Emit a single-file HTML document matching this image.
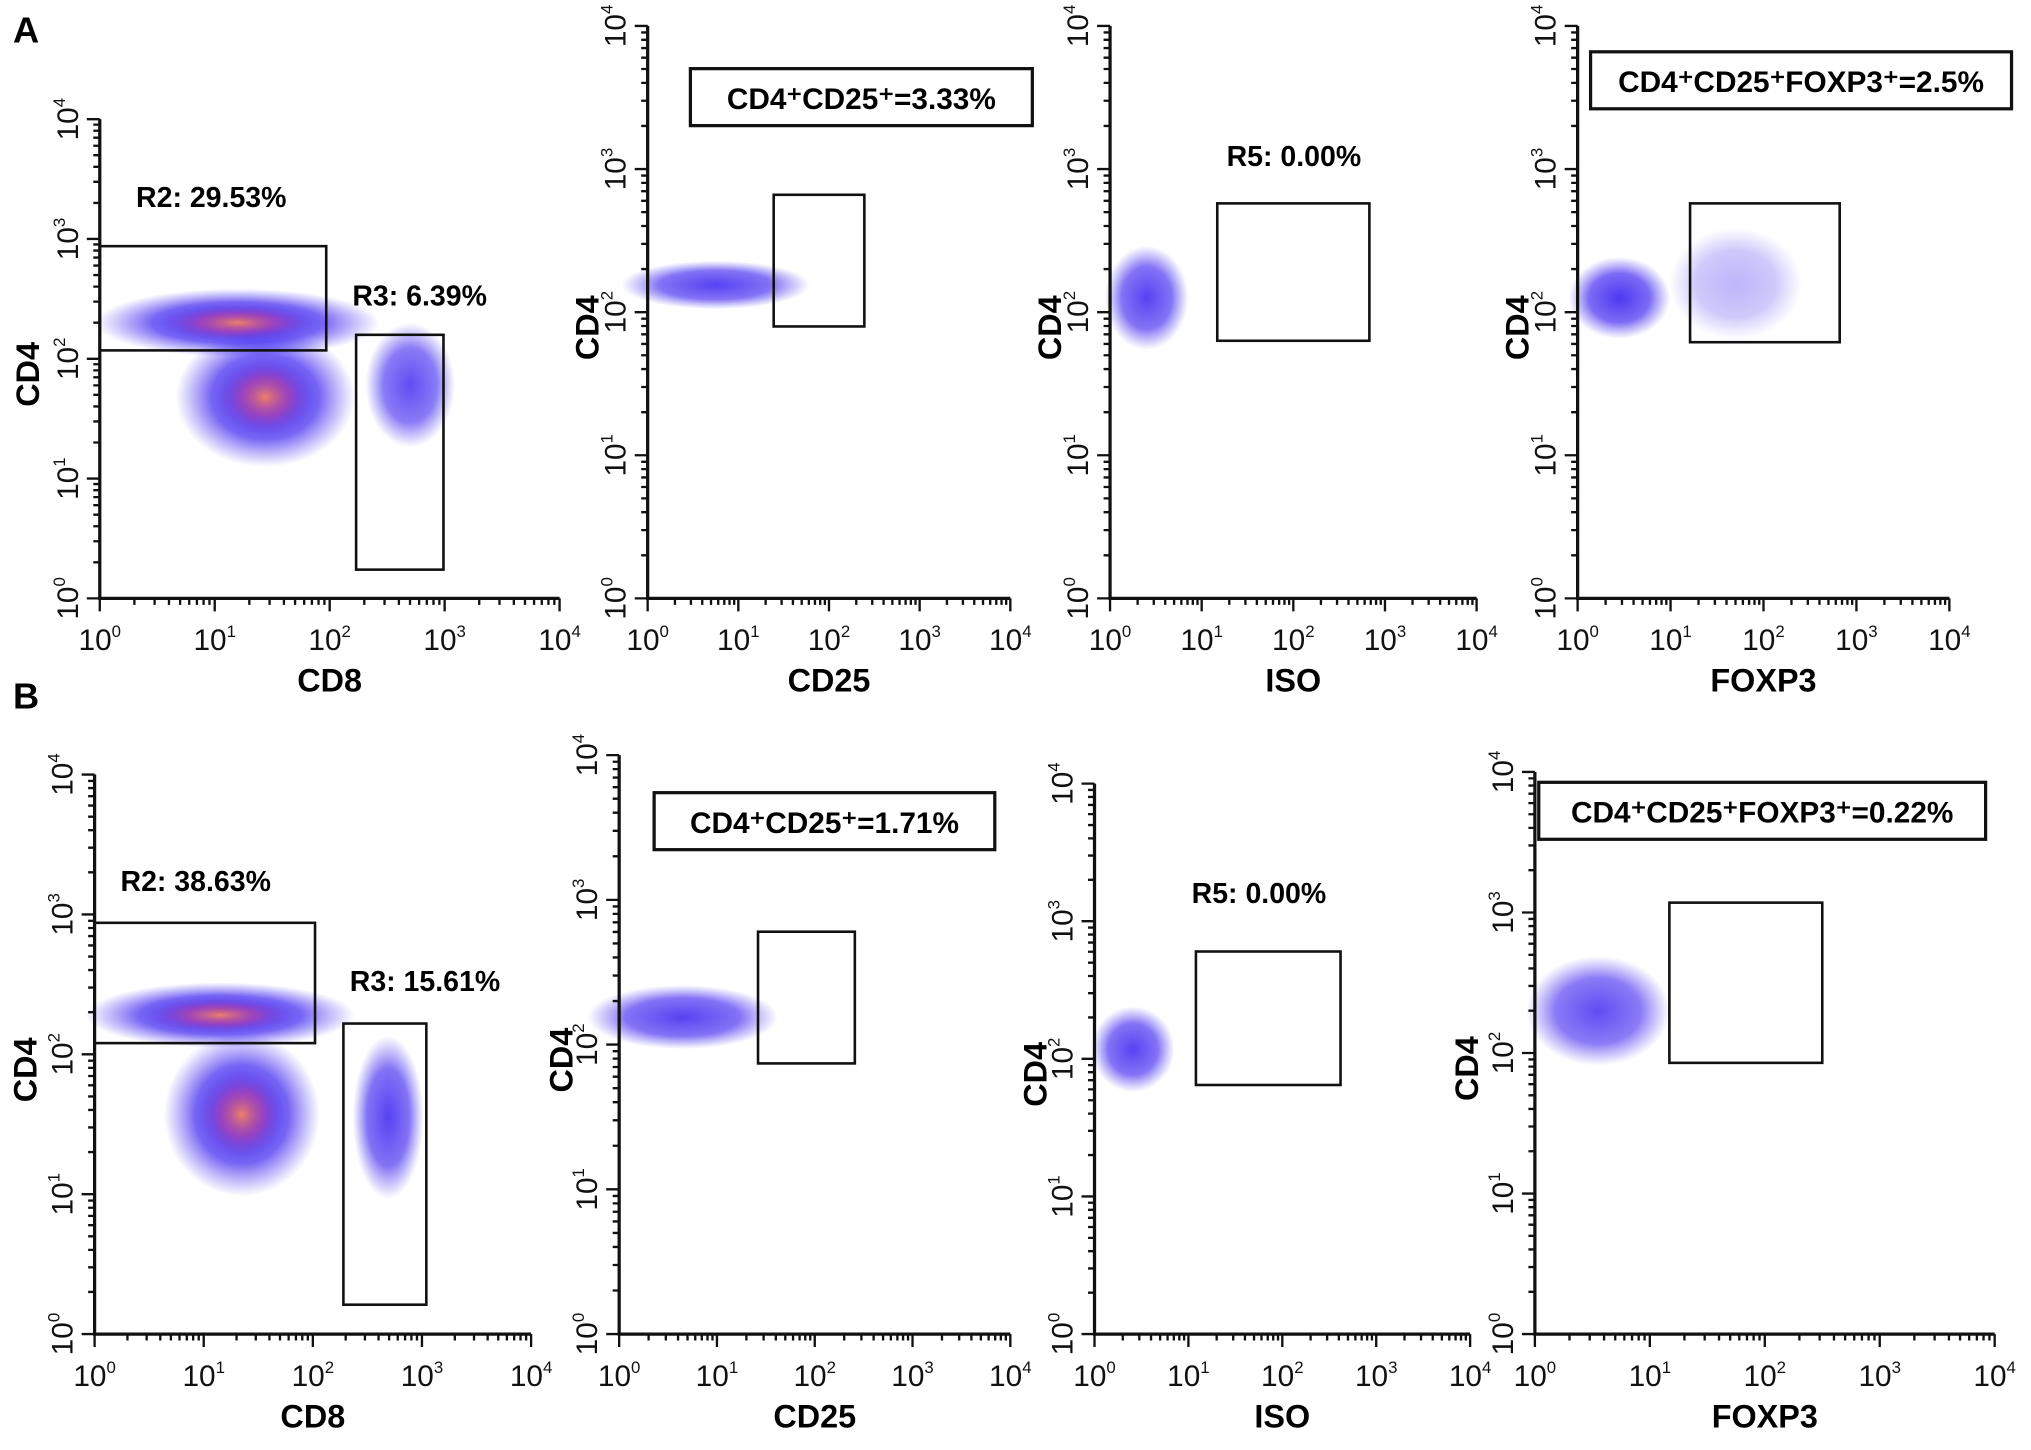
<!DOCTYPE html>
<html><head><meta charset="utf-8"><style>
html,body{margin:0;padding:0;background:#fff;}
svg{display:block;font-family:"Liberation Sans",Arial,sans-serif;}
</style></head><body>
<svg id="fig" width="2031" height="1450" viewBox="0 0 1568 1119.5" xmlns="http://www.w3.org/2000/svg">
<defs>
<radialGradient id="gBlue" cx="50%" cy="50%" r="50%">
<stop offset="0" stop-color="#3a22f0" stop-opacity="0.95"/>
<stop offset="0.6" stop-color="#3a22f0" stop-opacity="0.7"/>
<stop offset="1" stop-color="#4a3af0" stop-opacity="0"/>
</radialGradient>
<radialGradient id="gHot" cx="50%" cy="50%" r="50%">
<stop offset="0" stop-color="#ff8a5a" stop-opacity="0.9"/>
<stop offset="0.5" stop-color="#c8409a" stop-opacity="0.55"/>
<stop offset="1" stop-color="#5a2ae0" stop-opacity="0"/>
</radialGradient>
</defs>
<text x="10" y="33" font-size="28" font-weight="bold">A</text>
<text x="10" y="547" font-size="28" font-weight="bold">B</text>
<g id="plots"></g>
</svg>
<script>
const panelIds = ["a-cd8","a-cd25","a-iso","a-foxp3","b-cd8","b-cd25","b-iso","b-foxp3"];
const xTitles = ["CD8","CD25","ISO","FOXP3","CD8","CD25","ISO","FOXP3"];
const tickExps = [0,1,2,3,4];
// gates (log10 units)
const gatePanels = [0,0,1,2,3,4,4,5,6,7];
const gateX1 = [0.0,2.23,1.39,1.17,1.21,0.0,2.28,1.42,1.08,1.17];
const gateX2 = [1.97,2.99,2.39,2.83,2.82,2.02,3.04,2.41,2.62,2.50];
const gateY1 = [2.07,0.24,1.90,1.80,1.79,2.08,0.21,1.87,1.81,1.93];
const gateY2 = [2.94,2.20,2.82,2.76,2.76,2.94,2.22,2.78,2.78,3.07];
// cell populations (log10 centre, log10 spread, density)
const popPanels = [0,0,0,1,2,3,3,4,4,4,5,6,7];
const popX = [1.20,1.44,2.70,0.75,0.40,0.45,1.70,1.15,1.35,2.69,0.65,0.41,0.55];
const popY = [2.30,1.68,1.78,2.19,2.10,2.10,2.20,2.28,1.57,1.55,2.19,2.07,2.30];
const popSX = [0.95,0.60,0.30,0.80,0.35,0.42,0.55,0.95,0.55,0.25,0.75,0.34,0.48];
const popSY = [0.22,0.45,0.40,0.13,0.28,0.22,0.30,0.18,0.45,0.45,0.17,0.24,0.30];
const popDensity = [1,1,0.85,0.9,0.9,0.95,0.35,1,1,0.9,0.9,0.9,0.85];
const popHot = [1,1,0,0,0,0,0,1,1,0,0,0,0];
const annPanels = [0,0,1,2,3,4,4,5,6,7];
const annText = ["R2: 29.53%","R3: 6.39%","CD4⁺CD25⁺=3.33%","R5: 0.00%","CD4⁺CD25⁺FOXP3⁺=2.5%","R2: 38.63%","R3: 15.61%","CD4⁺CD25⁺=1.71%","R5: 0.00%","CD4⁺CD25⁺FOXP3⁺=0.22%"];
const annBoxed = [0,0,1,0,1,0,0,1,0,1];

const L = [
 {x0:77,x1:432,y0:462,y1:92,ylx:30},
 {x0:500,x1:780,y0:462,y1:20,ylx:462},
 {x0:857,x1:1140,y0:462,y1:20,ylx:819},
 {x0:1218,x1:1505,y0:462,y1:20,ylx:1180},
 {x0:73,x1:410,y0:1030,y1:598,ylx:28},
 {x0:478,x1:780,y0:1030,y1:583,ylx:442},
 {x0:845,x1:1135,y0:1030,y1:605,ylx:808},
 {x0:1185,x1:1540,y0:1030,y1:596,ylx:1141}
];
const annPos = [[105,160],[272,236],[533,53],[947,128],[1228,40],[93,688],[270,765],[505,612],[920,697],[1188,604]];
const annW = [0,0,264,0,325,0,0,263,0,345];

const NS="http://www.w3.org/2000/svg";
const root=document.getElementById('plots');
function mk(tag,attrs,parent){const e=document.createElementNS(NS,tag);for(const k in attrs)e.setAttribute(k,attrs[k]);(parent||root).appendChild(e);return e;}
function sx(p,v){return L[p].x0+(L[p].x1-L[p].x0)*v/4;}
function sy(p,v){return L[p].y0-(L[p].y0-L[p].y1)*v/4;}
const K=1.3;

panelIds.forEach((id,p)=>{
  const g=mk('g',{});
  
  
  const l=L[p];
  popPanels.forEach((pp,i)=>{
    if(pp!==p)return;
    const rx=Math.abs(sx(p,popSX[i])-sx(p,0))*K, ry=Math.abs(sy(p,popSY[i])-sy(p,0))*K;
    const e=mk('ellipse',{cx:sx(p,popX[i]),cy:sy(p,popY[i]),rx:rx,ry:ry,fill:'url(#gBlue)',opacity:popDensity[i]},g);
    
    
    if(popHot[i]){
      const h=mk('ellipse',{cx:sx(p,popX[i]),cy:sy(p,popY[i]),rx:rx*0.55,ry:ry*0.55,fill:'url(#gHot)'},g);
      
      
    }
  });
  gatePanels.forEach((gp,i)=>{
    if(gp!==p)return;
    const r=mk('rect',{x:sx(p,gateX1[i]),y:sy(p,gateY2[i]),width:sx(p,gateX2[i])-sx(p,gateX1[i]),height:sy(p,gateY1[i])-sy(p,gateY2[i]),fill:'none',stroke:'#111','stroke-width':2},g);
    
    
  });
  const ax=mk('path',{d:`M${l.x0},${l.y1} L${l.x0},${l.y0} L${l.x1},${l.y0}`,fill:'none',stroke:'#111','stroke-width':2.5},g);
  
  
  let d='';
  for(let e=0;e<4;e++){for(let m=2;m<=9;m++){const v=e+Math.log10(m);
    d+=`M${sx(p,v)},${l.y0} L${sx(p,v)},${l.y0+5} M${l.x0},${sy(p,v)} L${l.x0-5},${sy(p,v)} `;}}
  tickExps.forEach(e=>{d+=`M${sx(p,e)},${l.y0} L${sx(p,e)},${l.y0+10} M${l.x0},${sy(p,e)} L${l.x0-10},${sy(p,e)} `;});
  const tk=mk('path',{d:d,stroke:'#111','stroke-width':1.8,fill:'none'},g);
  
  
  tickExps.forEach(e=>{
    const t=mk('text',{x:sx(p,e),y:l.y0+40,'font-size':23,'text-anchor':'middle',fill:'#111'},g);
    
    
    t.innerHTML='10<tspan font-size="13" dy="-10">'+e+'</tspan>';
    const ty=mk('text',{transform:`translate(${l.x0-17},${sy(p,e)}) rotate(-90)`,'font-size':23,'text-anchor':'middle',fill:'#111'},g);
    
    
    ty.innerHTML='10<tspan font-size="13" dy="-10">'+e+'</tspan>';
  });
  const xt=mk('text',{x:(l.x0+l.x1)/2,y:l.y0+72,'font-size':25,'font-weight':'bold','text-anchor':'middle'},g);
  
  
  xt.textContent=xTitles[p];
  const yt=mk('text',{transform:`translate(${l.ylx},${(l.y0+l.y1)/2+12}) rotate(-90)`,'font-size':25,'font-weight':'bold','text-anchor':'middle'},g);
  
  
  yt.textContent='CD4';
});

annText.forEach((txt,i)=>{
  const [x,y]=annPos[i];
  if(annBoxed[i]){
    const b=mk('rect',{x:x,y:y,width:annW[i],height:44,fill:'#fff',stroke:'#111','stroke-width':2.5});
    
    
    const t=mk('text',{x:x+annW[i]/2,y:y+31,'font-size':23,'font-weight':'bold','text-anchor':'middle'});
    
    
    t.textContent=txt;
  } else {
    const t=mk('text',{x:x,y:y,'font-size':22,'font-weight':'bold'});
    
    
    t.textContent=txt;
  }
});
</script>
</body></html>
